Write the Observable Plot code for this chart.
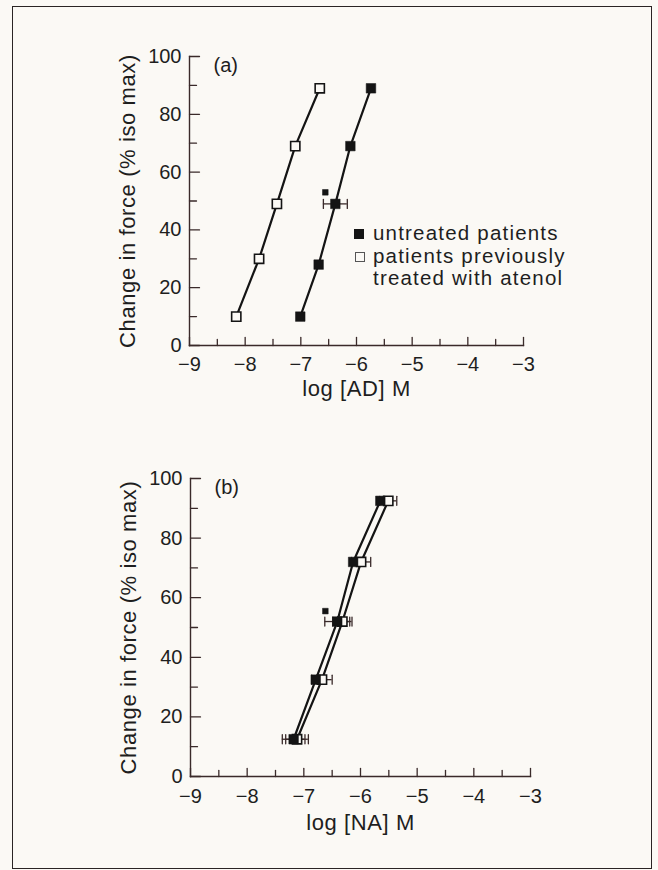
<!DOCTYPE html>
<html>
<head>
<meta charset="utf-8">
<script src="https://cdn.jsdelivr.net/npm/d3@7"></script>
<script src="https://cdn.jsdelivr.net/npm/@observablehq/plot@0.6"></script>
<style>
  html, body { margin: 0; padding: 0; background: #fbf9f5; }
  #fig { position: relative; width: 658px; height: 870px; overflow: hidden; background: #fbf9f5;
         font-family: "Liberation Sans", Arial, Helvetica, sans-serif; color: #1e1e1e; }
  #frame { position: absolute; left: 12px; top: 6px; width: 640px; height: 863px;
           border: 1.6px solid #2a2424; box-sizing: border-box; }
  .panel { position: absolute; left: 0; }
  .title text { letter-spacing: 0.6px; }
  #legend { position: absolute; left: 373px; top: 222px; font-size: 20.5px; line-height: 22.5px;
            letter-spacing: 1.2px; white-space: nowrap; }
  #legend .row { position: relative; }
  #legend .sw { position: absolute; left: -19px; top: 7px; width: 10px; height: 10px; box-sizing: border-box; }
  #legend .sw.filled { background: #141414; }
  #legend .sw.open { background: #fbf9f5; border: 1px solid #555; left: -18px; }
</style>
</head>
<body>
<div id="fig">
  <div id="frame"></div>
  <div id="legend"></div>
</div>
<script>
// ---------- data ----------
const seriesNames = ["untreated patients", "patients previously", "treated with atenol"];
const panelLabels = ["(a)", "(b)"];
const yTitle = "Change in force (% iso max)";
const xTitles = ["log [AD] M", "log [NA] M"];

const xTicksMajor = [-9, -8, -7, -6, -5, -4, -3];
const xTicksMinor = [-8.5, -7.5, -6.5, -5.5, -4.5, -3.5];
const yTicksMajor = [0, 20, 40, 60, 80, 100];
const yTicksMinor = [10, 30, 50, 70, 90];

// Panel (a): adrenaline
const aUntreatedX = [-7.01, -6.68, -6.38, -6.11, -5.74];
const aUntreatedY = [10, 28, 49, 69, 89];
const aUntreatedErr = [null, null, 0.215, null, null];
const aTreatedX = [-8.16, -7.75, -7.43, -7.10, -6.66];
const aTreatedY = [10, 30, 49, 69, 89];
const aTreatedErr = [null, null, null, null, null];
const aMarkerX = [-6.56];
const aMarkerY = [53];

// Panel (b): noradrenaline
const bUntreatedX = [-7.18, -6.79, -6.41, -6.13, -5.65];
const bUntreatedY = [12.5, 32.5, 52, 72, 92.5];
const bUntreatedErr = [0.2, null, 0.22, null, null];
const bTreatedX = [-7.12, -6.68, -6.32, -5.99, -5.51];
const bTreatedY = [12.5, 32.5, 52, 72, 92.5];
const bTreatedErr = [0.2, 0.18, 0.17, 0.17, 0.15];
const bMarkerX = [-6.62];
const bMarkerY = [55.5];

// ---------- helpers ----------
const FONT = '"Liberation Sans", Arial, Helvetica, sans-serif';
const BG = "#fbf9f5";
const INK = "#141414";
const AXIS = "#3a2a2a";
const fmt = d => (d < 0 ? "\u2212" + Math.abs(d) : String(d));
const lineShape = { draw(ctx, l) { ctx.moveTo(0, 0); ctx.lineTo(0, -l); } };

const zip = (xs, ys, es) => xs.map((x, i) => ({ x, y: ys[i], e: es ? es[i] : null }));

function panel(cfg) {
  const U = zip(cfg.ux, cfg.uy, cfg.ue);
  const T = zip(cfg.tx, cfg.ty, cfg.te);
  const M = zip(cfg.mx, cfg.my);
  const errs = [...T, ...U].filter(d => d.e != null);
  const caps = errs.flatMap(d => [{ x: d.x - d.e, y: d.y }, { x: d.x + d.e, y: d.y }]);
  return Plot.plot({
    width: 658,
    height: cfg.height,
    marginTop: cfg.mt, marginBottom: cfg.mb, marginLeft: cfg.ml, marginRight: cfg.mr,
    style: { background: "transparent", fontFamily: FONT, fontSize: "20px", color: "#1e1e1e", overflow: "visible" },
    x: { domain: [-9, -3] },
    y: { domain: [0, 100] },
    marks: [
      // axis lines
      Plot.frame({ anchor: "left", stroke: AXIS, strokeWidth: 1.4 }),
      Plot.frame({ anchor: "bottom", stroke: AXIS, strokeWidth: 1.4 }),
      // inward ticks
      Plot.vector(yTicksMajor, { y: d => d, frameAnchor: "left", rotate: 90, length: 10, anchor: "start", shape: lineShape, stroke: AXIS, strokeWidth: 1.3 }),
      Plot.vector(yTicksMinor, { y: d => d, frameAnchor: "left", rotate: 90, length: 7, anchor: "start", shape: lineShape, stroke: AXIS, strokeWidth: 1.3 }),
      Plot.vector(xTicksMajor, { x: d => d, frameAnchor: "bottom", rotate: 0, length: 8, anchor: "start", shape: lineShape, stroke: AXIS, strokeWidth: 1.3 }),
      Plot.vector(xTicksMinor, { x: d => d, frameAnchor: "bottom", rotate: 0, length: 6, anchor: "start", shape: lineShape, stroke: AXIS, strokeWidth: 1.3 }),
      // tick labels
      Plot.axisX({ ticks: xTicksMajor, tickSize: 0, tickPadding: cfg.xpad, tickFormat: fmt, label: null, fontSize: 20, fill: "#1e1e1e" }),
      Plot.axisY({ ticks: yTicksMajor, tickSize: 0, tickPadding: 8, tickFormat: fmt, label: null, fontSize: 20, fill: "#1e1e1e" }),
      // titles
      Plot.text([yTitle], { frameAnchor: "left", rotate: -90, dx: -62, textAnchor: "middle", lineAnchor: "middle", fontSize: 22, className: "title", fill: "#1e1e1e" }),
      Plot.text([cfg.xTitle], { frameAnchor: "bottom", dy: cfg.titleDy, textAnchor: "middle", lineAnchor: "bottom", fontSize: 22, className: "title", fill: "#1e1e1e" }),
      Plot.text([cfg.label], { frameAnchor: "top-left", dx: 24, dy: 9, textAnchor: "start", lineAnchor: "middle", fontSize: 20, fill: "#1e1e1e" }),
      // error bars
      Plot.ruleY(errs, { y: "y", x1: d => d.x - d.e, x2: d => d.x + d.e, stroke: AXIS, strokeWidth: 1.3 }),
      Plot.vector(caps, { x: "x", y: "y", rotate: 0, length: 9, anchor: "middle", shape: lineShape, stroke: AXIS, strokeWidth: 1.3 }),
      // curves
      Plot.line(T, { x: "x", y: "y", stroke: INK, strokeWidth: 2.2 }),
      Plot.line(U, { x: "x", y: "y", stroke: INK, strokeWidth: 2.2 }),
      // points
      Plot.dot(T, { x: "x", y: "y", symbol: "square", r: 5.2, fill: BG, stroke: INK, strokeWidth: 1.6 }),
      Plot.dot(U, { x: "x", y: "y", symbol: "square", r: 5.4, fill: INK, stroke: INK, strokeWidth: 0.5 }),
      Plot.dot(M, { x: "x", y: "y", symbol: "square", r: 3.2, fill: INK, stroke: INK, strokeWidth: 0.5 })
    ]
  });
}

const fig = document.getElementById("fig");

const pa = panel({
  ux: aUntreatedX, uy: aUntreatedY, ue: aUntreatedErr,
  tx: aTreatedX, ty: aTreatedY, te: aTreatedErr,
  mx: aMarkerX, my: aMarkerY,
  label: panelLabels[0], xTitle: xTitles[0],
  height: 420, mt: 56, mb: 75, ml: 189, mr: 135, xpad: 11, titleDy: 50
});
pa.classList.add("panel");
pa.style.top = "0px";
fig.appendChild(pa);

const pb = panel({
  ux: bUntreatedX, uy: bUntreatedY, ue: bUntreatedErr,
  tx: bTreatedX, ty: bTreatedY, te: bTreatedErr,
  mx: bMarkerX, my: bMarkerY,
  label: panelLabels[1], xTitle: xTitles[1],
  height: 450, mt: 58, mb: 94, ml: 190, mr: 128, xpad: 12.5, titleDy: 53
});
pb.classList.add("panel");
pb.style.top = "420px";
fig.appendChild(pb);

// legend
const legend = document.getElementById("legend");
const swatches = ["filled", "open", null];
seriesNames.forEach((name, i) => {
  const row = document.createElement("div");
  row.className = "row";
  if (swatches[i]) {
    const sw = document.createElement("span");
    sw.className = "sw " + swatches[i];
    row.appendChild(sw);
  }
  row.appendChild(document.createTextNode(name));
  legend.appendChild(row);
});
</script>
</body>
</html>
